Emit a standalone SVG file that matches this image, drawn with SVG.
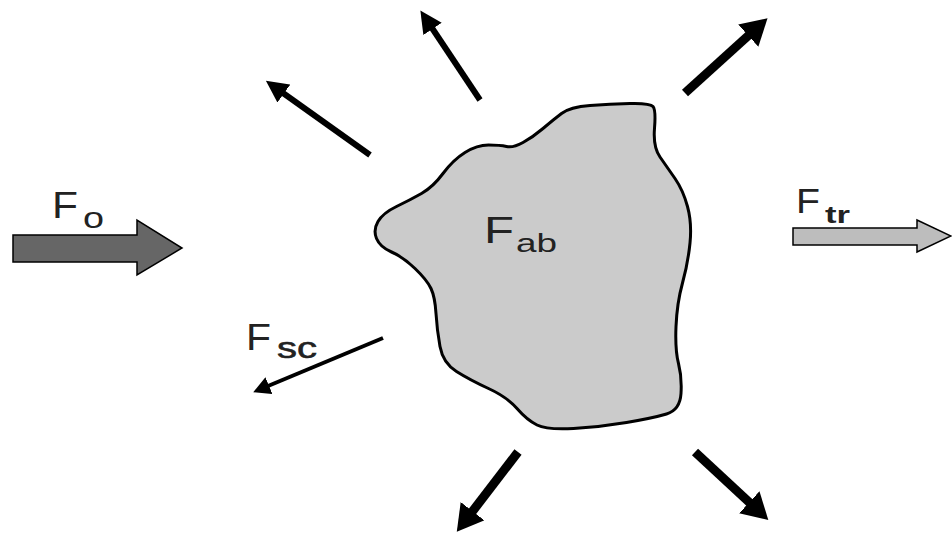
<svg xmlns="http://www.w3.org/2000/svg" width="952" height="537" viewBox="0 0 952 537">
<style>
.lbl{font-family:"Liberation Sans",Arial,sans-serif;fill:#222}
.ray{stroke:#000;fill:none;stroke-linecap:butt}
</style>
<defs>
<marker id="hs" markerUnits="userSpaceOnUse" viewBox="0 -11 22 22" markerWidth="22" markerHeight="22" refX="1" refY="0" orient="auto"><path d="M0,-11 L22,0 L0,11 Z" fill="#000"/></marker>
<marker id="hl" markerUnits="userSpaceOnUse" viewBox="0 -15 26 30" markerWidth="26" markerHeight="30" refX="1" refY="0" orient="auto"><path d="M0,-15 L26,0 L0,15 Z" fill="#000"/></marker>
<marker id="hsc" markerUnits="userSpaceOnUse" viewBox="0 -9 17 18" markerWidth="17" markerHeight="18" refX="1" refY="0" orient="auto"><path d="M0,-9 L17,0 L0,9 Z" fill="#000"/></marker>
</defs>
<rect width="952" height="537" fill="#fff"/>
<g id="particle">
<path d="M590,105.5 Q610,104 630,103.5 Q650,103 653,106.5 Q656,110 654.5,128.5 Q653,147 660,157 Q667,167 675,178.5 Q683,190 687.5,206.5 Q692,223 690,243 Q688,263 682.5,283 Q677,303 676,326.5 Q675,350 678.5,363.5 Q682,377 681,393.5 Q680,410 666.5,414 Q653,418 626.5,422.5 Q600,427 573.5,428.5 Q547,430 537,425 Q527,420 517,408.5 Q507,397 488.5,388.5 Q470,380 456.5,371.5 Q443,363 440,346.5 Q437,330 436,313.5 Q435,297 431,288.5 Q427,280 415,268.5 Q403,257 391.5,252 Q380,247 376.5,238.5 Q373,230 378,221.5 Q383,213 396.5,206.5 Q410,200 421.5,193.5 Q433,187 443,173.5 Q453,160 465,152.5 Q477,145 488.5,145 Q500,145 506.5,146.5 Q513,148 523,142.5 Q533,137 543,128.5 Q553,120 561.5,113.5 Q570,107 590,105.5 Z" fill="#cbcbcb" stroke="#000" stroke-width="3" stroke-linejoin="round"/>
<text class="lbl" x="484" y="243" font-size="37" textLength="30" lengthAdjust="spacingAndGlyphs">F</text>
<text class="lbl" x="516" y="252" font-size="25" textLength="41" lengthAdjust="spacingAndGlyphs">ab</text>
</g>
<g id="incident">
<polygon points="13,235 137,235 137,220 182,248 137,275 137,262 13,262" fill="#666" stroke="#000" stroke-width="1.5" stroke-linejoin="miter"/>
<text class="lbl" x="52" y="218" font-size="36" textLength="26" lengthAdjust="spacingAndGlyphs">F</text>
<text class="lbl" x="83" y="228" font-size="30" textLength="21" lengthAdjust="spacingAndGlyphs">o</text>
</g>
<g id="transmitted">
<polygon points="793,228 917,228 917,220 951,236 917,252 917,245 793,245" fill="#bdbdbd" stroke="#000" stroke-width="1.5"/>
<text class="lbl" x="796" y="213" font-size="35" textLength="24" lengthAdjust="spacingAndGlyphs">F</text>
<text class="lbl" x="825" y="223" font-size="24" font-weight="bold" textLength="25" lengthAdjust="spacingAndGlyphs">tr</text>
</g>
<g id="scattered-label">
<text class="lbl" x="246" y="350" font-size="37" textLength="25" lengthAdjust="spacingAndGlyphs">F</text>
<text class="lbl" x="277" y="358" font-size="30" stroke="#222" stroke-width="0.6" textLength="40" lengthAdjust="spacingAndGlyphs">sc</text>
</g>
<g id="connectors">
<line class="ray" x1="370" y1="155" x2="283" y2="93" stroke-width="6" marker-end="url(#hs)"/>
<line class="ray" x1="480" y1="100" x2="432" y2="28" stroke-width="6" marker-end="url(#hs)"/>
<line class="ray" x1="685" y1="93" x2="749" y2="35" stroke-width="9" marker-end="url(#hl)"/>
<line class="ray" x1="518" y1="452" x2="472" y2="512" stroke-width="9" marker-end="url(#hl)"/>
<line class="ray" x1="695" y1="452" x2="750" y2="503" stroke-width="9" marker-end="url(#hl)"/>
<line class="ray" x1="383" y1="338" x2="268" y2="386" stroke-width="4" marker-end="url(#hsc)"/>
</g>
</svg>
